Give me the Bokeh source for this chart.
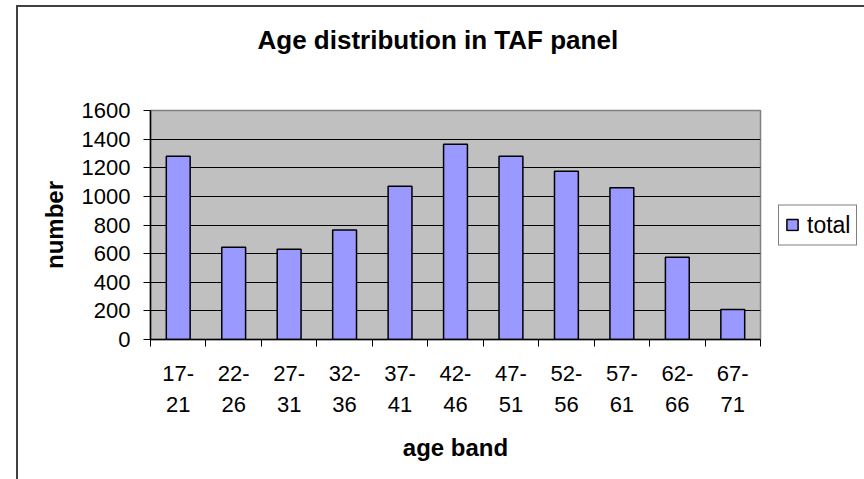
from bokeh.plotting import figure
from bokeh.layouts import row
from bokeh.models import (FixedTicker, Range1d, Legend, LegendItem, Title,
                          ColumnDataSource, InlineStyleSheet)
from bokeh.embed import file_html
from bokeh.resources import INLINE

# ---- data ----
categories = ["17-21", "22-26", "27-31", "32-36", "37-41", "42-46",
              "47-51", "52-56", "57-61", "62-66", "67-71"]
tick_labels = ["17-\n21", "22-\n26", "27-\n31", "32-\n36", "37-\n41", "42-\n46",
               "47-\n51", "52-\n56", "57-\n61", "62-\n66", "67-\n71"]
totals = [1280, 645, 630, 765, 1070, 1365, 1280, 1175, 1060, 575, 210]
y_ticks = [0, 200, 400, 600, 800, 1000, 1200, 1400, 1600]
series_name = "total"

FONT = "Liberation Sans"
BAR_FILL = "#9999FF"

n = len(categories)
positions = [i + 0.5 for i in range(n)]
src = ColumnDataSource(dict(x=positions, total=totals, band=categories))

p = figure(width=778, height=479, output_backend="svg", toolbar_location=None,
           x_range=Range1d(0, n), y_range=Range1d(y_ticks[0], y_ticks[-1]),
           min_border_left=150, min_border_right=18, min_border_top=110,
           min_border_bottom=140,
           background_fill_color="#C0C0C0", border_fill_color="white",
           outline_line_color="#808080", outline_line_width=1.5)

# spacer between frame and title (pushes the title upward)
p.add_layout(Title(text=" ", text_font_size="1px", standoff=48), "above")

# title
p.title.text = "Age distribution in TAF panel"
p.title.text_font = FONT
p.title.text_font_size = "26px"
p.title.text_font_style = "bold"
p.title.text_color = "black"
p.title.align = "left"
p.title.offset = 107
p.title.standoff = 10

# grid
p.xgrid.grid_line_color = None
p.ygrid.ticker = FixedTicker(ticks=y_ticks)
p.ygrid.grid_line_color = "black"
p.ygrid.grid_line_width = 1

# y axis
ya = p.yaxis[0]
ya.ticker = FixedTicker(ticks=y_ticks)
ya.axis_line_color = "black"
ya.axis_line_width = 1.5
ya.major_tick_out = 7
ya.major_tick_in = 0
ya.major_tick_line_color = "black"
ya.minor_tick_line_color = None
ya.major_label_text_font = FONT
ya.major_label_text_font_size = "22px"
ya.major_label_text_color = "black"
ya.major_label_standoff = 13
ya.axis_label = "number"
ya.axis_label_text_font = FONT
ya.axis_label_text_font_size = "24px"
ya.axis_label_text_font_style = "bold"
ya.axis_label_text_color = "black"
ya.axis_label_standoff = 11

# x axis
xa = p.xaxis[0]
xa.ticker = FixedTicker(ticks=positions, minor_ticks=list(range(n + 1)))
xa.major_label_overrides = {pos: lbl for pos, lbl in zip(positions, tick_labels)}
xa.axis_line_color = "black"
xa.axis_line_width = 1.5
xa.major_tick_line_color = None
xa.major_tick_out = 0
xa.major_tick_in = 0
xa.minor_tick_line_color = "black"
xa.minor_tick_out = 7
xa.minor_tick_in = 0
xa.major_label_text_font = FONT
xa.major_label_text_font_size = "22px"
xa.major_label_text_color = "black"
xa.major_label_text_line_height = 1.25
xa.major_label_standoff = 14
xa.axis_label = "age band"
xa.axis_label_text_font = FONT
xa.axis_label_text_font_size = "24px"
xa.axis_label_text_font_style = "bold"
xa.axis_label_text_color = "black"
xa.axis_label_standoff = 14

# bars
p.vbar(x="x", top="total", width=0.43, source=src,
       fill_color=BAR_FILL, line_color="black", line_width=1.5)

# legend panel: a small companion figure to the right of the chart
p2 = figure(width=86, height=479, output_backend="svg", toolbar_location=None,
            x_range=Range1d(0, n), y_range=Range1d(y_ticks[0], y_ticks[-1]),
            x_axis_type=None, y_axis_type=None,
            min_border_left=0, min_border_right=0, min_border_top=110,
            min_border_bottom=140, outline_line_color=None,
            background_fill_color="white", border_fill_color="white")
p2.xgrid.visible = False
p2.ygrid.visible = False
r2 = p2.vbar(x="x", top="total", width=0.43, source=src,
             fill_color=BAR_FILL, line_color="black", line_width=1.5)
r2.visible = False  # only supplies the legend swatch
legend = Legend(items=[LegendItem(label=series_name, renderers=[r2])],
                location="center_left", orientation="vertical",
                click_policy="none",
                border_line_color="black", border_line_width=1,
                background_fill_color="white", background_fill_alpha=1,
                padding=6, margin=0, spacing=0,
                glyph_width=14, glyph_height=14, label_standoff=8,
                label_text_font=FONT, label_text_font_size="23px",
                label_text_color="black")
p2.add_layout(legend, "center")

layout = row(p, p2, spacing=0)

# outer chart-area border (left and top edges visible in the reference)
layout.stylesheets = [InlineStyleSheet(css="""
:host { position: relative; }
:host::after {
  content: "";
  position: absolute;
  left: 16px; top: 5px; right: 0; bottom: 0;
  border-left: 2px solid #404040;
  border-top: 2px solid #404040;
  pointer-events: none;
  z-index: 10;
}
""")]

open("out.html", "w").write(file_html(layout, INLINE))
